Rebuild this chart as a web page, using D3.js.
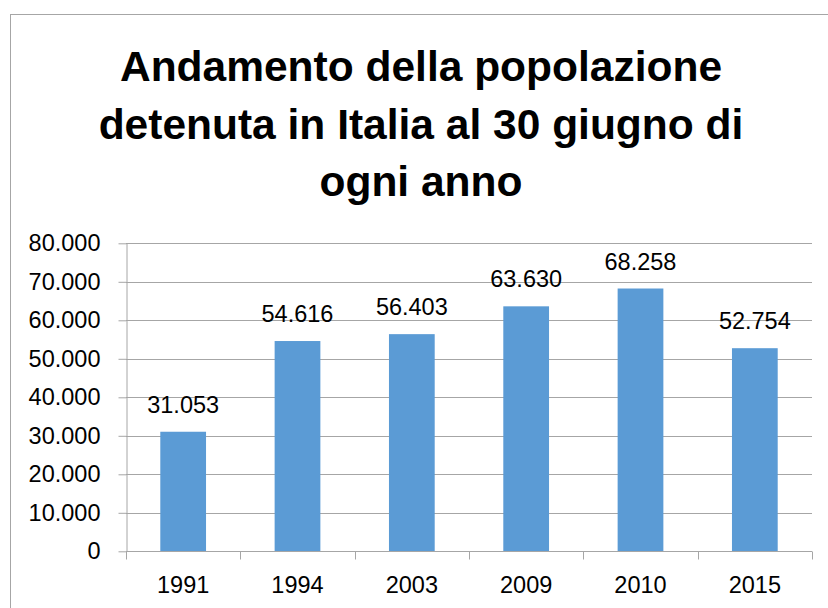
<!DOCTYPE html>
<html><head><meta charset="utf-8">
<script src="https://cdn.jsdelivr.net/npm/d3@7"></script>
<style>body{margin:0;background:#fff}svg{display:block}</style>
</head><body>
<svg id="c" width="828" height="608"></svg>
<script>
const categories = ["1991","1994","2003","2009","2010","2015"];
const values = [31053, 54616, 56403, 63630, 68258, 52754];
const yTicks = [0,10000,20000,30000,40000,50000,60000,70000,80000];
const titleLines = ["Andamento della popolazione","detenuta in Italia al 30 giugno di","ogni anno"];

const loc = d3.formatLocale({decimal:",", thousands:".", grouping:[3], currency:["€",""]});
const fmt = loc.format(",d");
const font = "'Liberation Sans', Arial, sans-serif";

const svg = d3.select("#c");
svg.append("rect").attr("x",10.5).attr("y",14.5).attr("width",840).attr("height",620)
  .attr("fill","#fff").attr("stroke","#a6a6a6").attr("stroke-width",1);

const m = {l:126, r:812, t:243.3, b:551.3};
const x = d3.scaleBand().domain(categories).range([m.l,m.r]).paddingInner(0.6).paddingOuter(0.3);
const y = d3.scaleLinear().domain([0,80000]).range([m.b,m.t]);

// title
svg.append("g").selectAll("text").data(titleLines).join("text")
  .attr("x",421).attr("y",(d,i)=>81+i*57.7)
  .attr("text-anchor","middle").attr("font-family",font).attr("font-weight","bold")
  .attr("font-size",42.5).attr("fill","#000").text(d=>d);

// gridlines
svg.append("g").selectAll("line").data(yTicks.slice(1)).join("line")
  .attr("x1",m.l).attr("x2",m.r).attr("y1",d=>Math.round(y(d))+0.5).attr("y2",d=>Math.round(y(d))+0.5)
  .attr("stroke","#a6a6a6").attr("stroke-width",1);

// y axis
const ya = svg.append("g").attr("transform",`translate(${m.l+0.5},0)`)
  .call(d3.axisLeft(y).tickValues(yTicks).tickFormat(d=>fmt(d)).tickSize(8).tickPadding(18).tickSizeOuter(0));
ya.selectAll("path,line").attr("stroke","#a6a6a6");
ya.selectAll("text").attr("font-family",font).attr("font-size",23.5).attr("fill","#000");

// bars
svg.append("g").selectAll("rect").data(values).join("rect")
  .attr("x",(d,i)=>x(categories[i])).attr("width",x.bandwidth())
  .attr("y",d=>y(d)).attr("height",d=>y(0)-y(d)).attr("fill","#5b9bd5");

// data labels
svg.append("g").selectAll("text").data(values).join("text")
  .attr("x",(d,i)=>x(categories[i])+x.bandwidth()/2).attr("y",d=>y(d)-19)
  .attr("text-anchor","middle").attr("font-family",font).attr("font-size",23.5).attr("fill","#000")
  .text(d=>fmt(d));

// x axis
const xa = svg.append("g").attr("transform",`translate(0,${Math.round(y(0))+0.5})`);
const step = (m.r-m.l)/categories.length;
xa.append("line").attr("x1",m.l).attr("x2",m.r).attr("stroke","#a6a6a6");
xa.selectAll("line.t").data(d3.range(categories.length+1)).join("line").attr("class","t")
  .attr("x1",i=>Math.round(m.l+i*step)+0.5).attr("x2",i=>Math.round(m.l+i*step)+0.5)
  .attr("y1",0).attr("y2",8).attr("stroke","#a6a6a6");
xa.selectAll("text").data(categories).join("text")
  .attr("x",d=>x(d)+x.bandwidth()/2).attr("y",41.5)
  .attr("text-anchor","middle").attr("font-family",font).attr("font-size",23.5).attr("fill","#000")
  .text(d=>d);
</script>
</body></html>
